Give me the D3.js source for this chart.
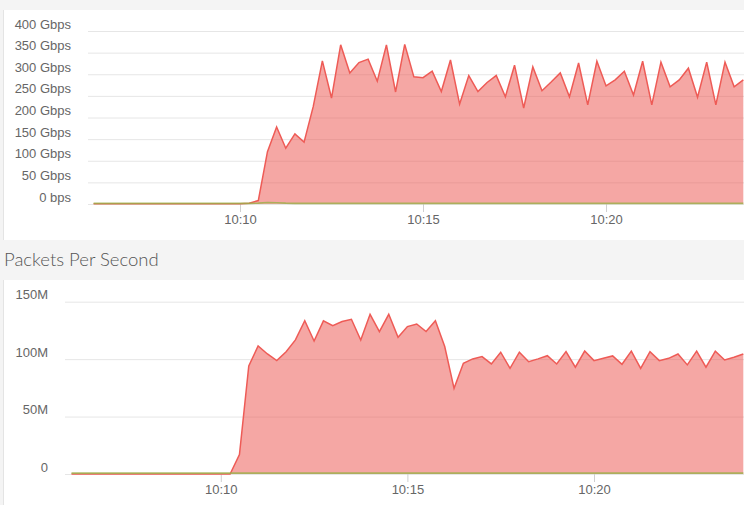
<!DOCTYPE html>
<html>
<head>
<meta charset="utf-8">
<title>Traffic</title>
<style>
  body { margin: 0; background: #f4f4f4; }
  svg { display: block; font-family: Lato, "Open Sans", sans-serif; }
  .tick text { fill: #666; font-size: 13px; }
  .grid .tick line { stroke: #e6e6e6; }
  .xaxis .tick line { stroke: #d0d0d0; }
  .domain { display: none; }
</style>
</head>
<body>
<div id="viz"></div>
<script src="https://d3js.org/d3.v7.min.js"></script>
<script>
// samples every 15 s
var bpsStart = new Date(2020, 0, 1, 10, 6, 0);
var bpsEnd = new Date(2020, 0, 1, 10, 23, 45);
var ppsStart = new Date(2020, 0, 1, 10, 6, 0);
var ppsEnd = new Date(2020, 0, 1, 10, 24, 0);

// Gbps
var bpsRed = [0.5, 0.5, 0.5, 0.5, 0.5, 0.5, 0.5, 0.5, 0.5, 0.5, 0.5, 0.5, 0.5, 0.5, 0.5, 0.5, 0.5,
  2, 8, 121, 178, 129, 162, 143, 225, 331, 245,
  368, 303, 327, 335, 284, 368, 259, 369, 294, 292,
  307, 260, 333, 231, 297, 260, 281, 297, 248, 321,
  222, 317, 262, 282, 303, 248, 326, 229, 330, 273,
  287, 307, 252, 330, 229, 328, 271, 287, 314, 247,
  328, 229, 328, 271, 287];
var bpsGreen = [1.5, 1.5, 1.5, 1.5, 1.5, 1.5, 1.5, 1.5, 1.5, 1.5, 1.5, 1.5, 1.5, 1.5, 1.5, 1.5, 1.5,
  1.5, 2, 3.5, 3, 2, 1.5, 1.5, 1.5, 1.5, 1.5,
  1.5, 1.5, 1.5, 1.5, 1.5, 1.5, 1.5, 1.5, 1.5, 1.5,
  1.5, 1.5, 1.5, 1.5, 1.5, 1.5, 1.5, 1.5, 1.5, 1.5,
  1.5, 1.5, 1.5, 1.5, 1.5, 1.5, 1.5, 1.5, 1.5, 1.5,
  1.5, 1.5, 1.5, 1.5, 1.5, 1.5, 1.5, 1.5, 1.5, 1.5,
  1.5, 1.5, 1.5, 1.5, 1.5];
var bpsTicks = [0, 50, 100, 150, 200, 250, 300, 350, 400];

// millions of packets
var ppsRed = [0, 0, 0, 0, 0, 0, 0, 0, 0, 0, 0, 0, 0, 0, 0, 0, 0, 0,
  17, 94, 111.5, 104.5, 98.7, 106.5, 116.7, 133.5, 115.8, 133.3,
  129.2, 132.7, 134.7, 116.7, 139, 124, 139, 119, 128.3, 130.6,
  124, 133.5, 111, 74.6, 96.4, 100.2, 102.2, 95.8, 106, 92,
  106, 97.8, 100.2, 103, 95.8, 106.5, 93, 107, 98.7, 100.7,
  102.8, 95.5, 107, 92, 106.5, 98.7, 100.7, 104.5, 95, 107,
  93, 107, 99.3, 101.6, 104.5];
var ppsGreen = [0.8, 0.8, 0.8, 0.8, 0.8, 0.8, 0.8, 0.8, 0.8, 0.8, 0.8, 0.8, 0.8, 0.8, 0.8, 0.8, 0.8, 0.8,
  0.8, 0.8, 0.8, 0.8, 0.8, 0.8, 0.8, 0.8, 0.8, 0.8,
  0.8, 0.8, 0.8, 0.8, 0.8, 0.8, 0.8, 0.8, 0.8, 0.8,
  0.8, 0.8, 0.8, 0.8, 0.8, 0.8, 0.8, 0.8, 0.8, 0.8,
  0.8, 0.8, 0.8, 0.8, 0.8, 0.8, 0.8, 0.8, 0.8, 0.8,
  0.8, 0.8, 0.8, 0.8, 0.8, 0.8, 0.8, 0.8, 0.8, 0.8,
  0.8, 0.8, 0.8, 0.8, 0.8];
var ppsTicks = [0, 50, 100, 150];

var width = 744, height = 505;

var svg = d3.select("#viz")
  .append("svg")
  .attr("width", width)
  .attr("height", height);

svg.append("rect")
  .attr("width", width).attr("height", height)
  .attr("fill", "#f4f4f4");

function drawChart(opt) {
  var g = svg.append("g");

  g.append("rect")
    .attr("x", 3).attr("y", opt.panelTop)
    .attr("width", width - 3).attr("height", opt.panelBottom - opt.panelTop)
    .attr("fill", "#fff");
  g.append("line")
    .attr("x1", 3.5).attr("x2", 3.5)
    .attr("y1", opt.panelTop).attr("y2", opt.panelBottom)
    .attr("stroke", "#e4e4e4");

  var times = d3.timeSecond.every(15).range(opt.start, new Date(+opt.end + 1));
  var x = d3.scaleTime().domain([opt.start, opt.end]).range([opt.x0, opt.x1]);
  var y = d3.scaleLinear().domain([0, d3.max(opt.ticks)]).range([opt.y0, opt.y1]);

  // grid + y labels
  var yAxis = g.append("g")
    .attr("class", "grid")
    .attr("transform", "translate(" + opt.gridX + ",0)")
    .call(d3.axisLeft(y)
      .tickValues(opt.ticks)
      .tickSize(-(width - opt.gridX))
      .tickPadding(opt.gridX - opt.labelX)
      .tickFormat(opt.fmt));
  yAxis.selectAll("text").attr("dy", "-3px");

  // x ticks
  var xAxis = g.append("g")
    .attr("class", "xaxis")
    .attr("transform", "translate(0," + opt.y0 + ")")
    .call(d3.axisBottom(x)
      .ticks(d3.timeMinute.every(5))
      .tickSize(8)
      .tickFormat(d3.timeFormat("%H:%M")));
  xAxis.selectAll("text").attr("y", opt.labelDy).attr("dy", 0);

  var red = opt.red.map(function (v, i) { return [times[i], v]; });
  var green = opt.green.map(function (v, i) { return [times[i], v]; });

  var area = d3.area()
    .x(function (d) { return x(d[0]); })
    .y0(y(0))
    .y1(function (d) { return y(d[1]); });
  var line = d3.line()
    .x(function (d) { return x(d[0]); })
    .y(function (d) { return y(d[1]); });

  g.append("path").datum(red)
    .attr("d", area)
    .attr("fill", "#ec5650")
    .attr("fill-opacity", 0.52);
  g.append("path").datum(red)
    .attr("d", line)
    .attr("fill", "none")
    .attr("stroke", "#ee5b56")
    .attr("stroke-width", 1.5);
  g.append("path").datum(green)
    .attr("d", line)
    .attr("fill", "none")
    .attr("stroke", "#9bb04a")
    .attr("stroke-opacity", 0.8)
    .attr("stroke-width", 1.6);
}

drawChart({
  panelTop: 10, panelBottom: 240,
  start: bpsStart, end: bpsEnd,
  x0: 93.6, x1: 743.3, y0: 204, y1: 31,
  gridX: 88, labelX: 71, labelDy: 20,
  ticks: bpsTicks, red: bpsRed, green: bpsGreen,
  fmt: function (d) { return d === 0 ? "0 bps" : d + " Gbps"; }
});

svg.append("text")
  .attr("x", 4).attr("y", 266)
  .attr("fill", "#555")
  .attr("font-size", 18.5)
  .attr("font-weight", 300)
  .text("Packets Per Second");

drawChart({
  panelTop: 280, panelBottom: 505,
  start: ppsStart, end: ppsEnd,
  x0: 71.5, x1: 743.3, y0: 474, y1: 301.7,
  gridX: 65, labelX: 48, labelDy: 20,
  ticks: ppsTicks, red: ppsRed, green: ppsGreen,
  fmt: function (d) { return d === 0 ? "0" : d + "M"; }
});
</script>
</body>
</html>
